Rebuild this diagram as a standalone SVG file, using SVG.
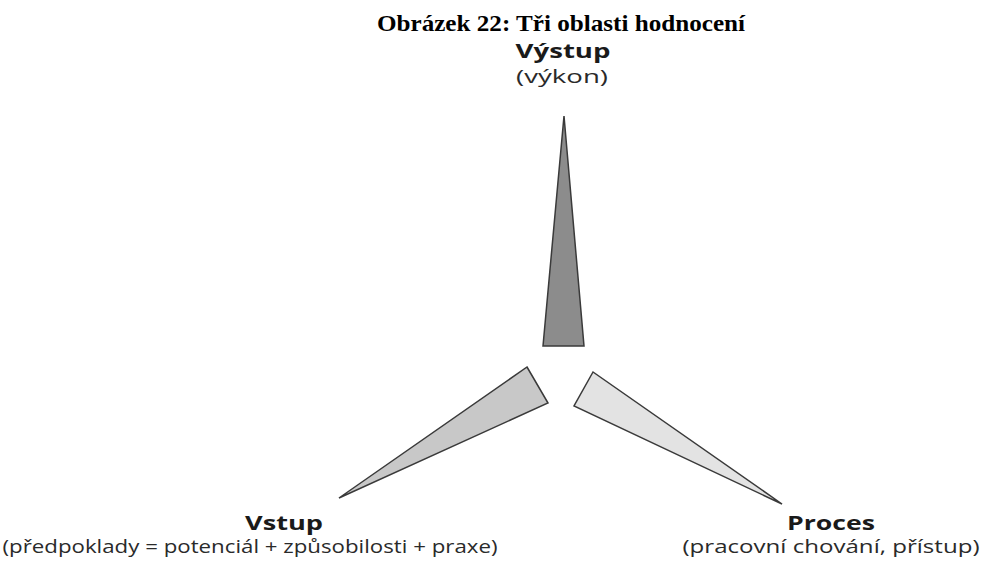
<svg xmlns="http://www.w3.org/2000/svg" width="984" height="566" viewBox="0 0 984 566">
<style>
.title{font-family:"Liberation Serif","Times New Roman",serif;font-weight:bold;font-size:24px;fill:#000;text-anchor:middle}
.lbl{font-family:"Open Sans","DejaVu Sans",sans-serif;font-weight:bold;font-size:20px;fill:#1a1a1a;text-anchor:middle}
.sub{font-family:"Open Sans","DejaVu Sans",sans-serif;font-size:18px;fill:#2a2a2a;text-anchor:middle}
.tri{stroke:#3a3a3a;stroke-width:1.5;stroke-linejoin:miter}
</style>
<rect width="984" height="566" fill="#fff"/>
<text class="title" x="561" y="31" textLength="368" lengthAdjust="spacingAndGlyphs">Obrázek 22: Tři oblasti hodnocení</text>
<g id="vystup">
<polygon class="tri" fill="#8c8c8c" points="564,116 584,346 543,346"/>
<text class="lbl" x="563" y="58" textLength="95" lengthAdjust="spacingAndGlyphs">Výstup</text>
<text class="sub" x="562" y="83" textLength="92" lengthAdjust="spacingAndGlyphs">(výkon)</text>
</g>
<g id="vstup">
<polygon class="tri" fill="#c8c8c8" points="527,367 548,403 339,498"/>
<text class="lbl" x="284" y="530" textLength="78" lengthAdjust="spacingAndGlyphs">Vstup</text>
<text class="sub" x="250" y="553" textLength="495" lengthAdjust="spacingAndGlyphs">(předpoklady = potenciál + způsobilosti + praxe)</text>
</g>
<g id="proces">
<polygon class="tri" fill="#e3e3e3" points="593,372 574,406 782,504"/>
<text class="lbl" x="831" y="530" textLength="88" lengthAdjust="spacingAndGlyphs">Proces</text>
<text class="sub" x="831" y="553" textLength="297" lengthAdjust="spacingAndGlyphs">(pracovní chování, přístup)</text>
</g>
<g id="connectors"/>
</svg>
